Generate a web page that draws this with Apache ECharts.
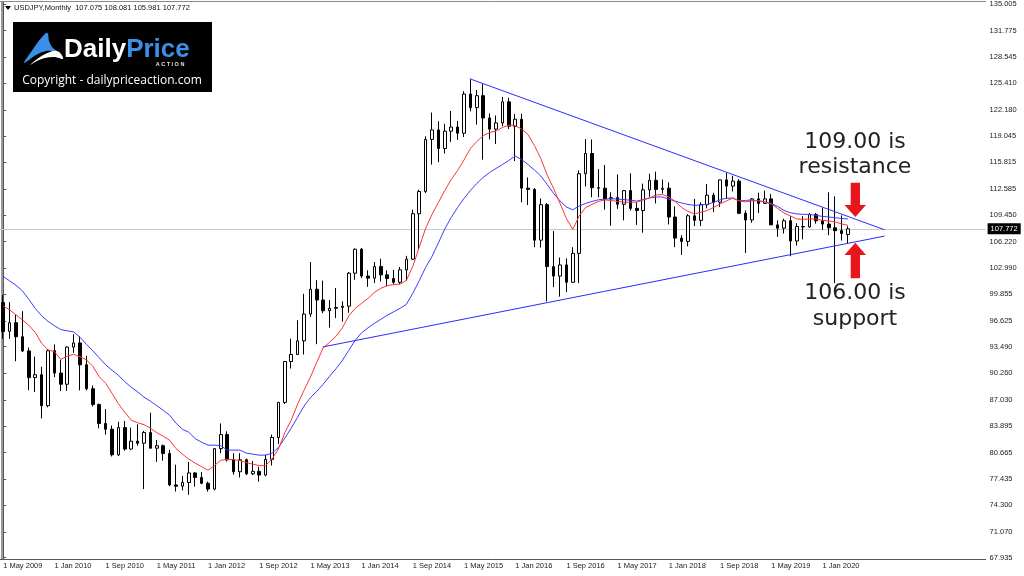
<!DOCTYPE html>
<html><head><meta charset="utf-8">
<script src="https://cdn.jsdelivr.net/npm/echarts@6/dist/echarts.min.js"></script>
<style>html,body{margin:0;padding:0;background:#fff}#c{width:1024px;height:576px}</style>
</head><body><div id="c"></div>
<script>
// ---------- categories (monthly, starting 1 May 2009) ----------
const monthNames = ['Jan','Feb','Mar','Apr','May','Jun','Jul','Aug','Sep','Oct','Nov','Dec'];
const startYear = 2009, startMonthIdx = 4, totalMonths = 154;
const categories = [];
for (let k = 0; k < totalMonths; k++) {
  const m = (startMonthIdx + k) % 12, y = startYear + Math.floor((startMonthIdx + k) / 12);
  categories.push('1 ' + monthNames[m] + ' ' + y);
}
const xTickLabels = ['1 May 2009','1 Jan 2010','1 Sep 2010','1 May 2011','1 Jan 2012','1 Sep 2012','1 May 2013','1 Jan 2014','1 Sep 2014','1 May 2015','1 Jan 2016','1 Sep 2016','1 May 2017','1 Jan 2018','1 Sep 2018','1 May 2019','1 Jan 2020'];
const yTickLabels = ['135.005','131.775','128.545','125.410','122.180','119.045','115.815','112.585','109.450','106.220','102.990','99.855','96.625','93.490','90.260','87.030','83.895','80.665','77.435','74.300','71.070','67.935'];

// ---------- USDJPY monthly candles, May 2009 .. May 2020 ----------
const open = [98.85,95.35,96.40,94.70,92.98,89.75,90.10,86.35,93.00,90.30,
  88.95,93.45,93.95,91.30,88.40,86.50,84.20,83.50,80.40,83.70,
  81.10,82.05,81.80,83.10,81.20,81.50,80.55,76.75,76.60,77.05,
  78.20,77.65,76.95,76.25,81.15,82.85,79.80,78.35,79.80,78.10,
  78.40,77.95,79.85,82.50,86.75,91.70,92.55,94.20,97.45,100.45,
  99.15,97.85,98.15,98.25,98.40,102.40,105.30,102.05,101.80,103.20,
  102.20,101.75,101.30,102.80,104.10,109.60,112.30,118.60,119.75,117.50,
  119.60,120.10,119.35,124.10,122.45,123.90,121.20,119.85,120.60,123.15,
  120.20,121.05,112.70,112.55,106.40,110.70,103.20,102.05,103.40,101.30,
  104.80,114.45,116.90,112.75,112.70,111.40,111.55,110.75,112.40,110.25,
  110.00,112.50,113.65,112.55,112.70,109.20,106.65,106.25,109.35,108.80,
  110.70,111.85,111.00,113.70,112.95,113.55,109.65,108.85,111.40,110.85,
  111.40,108.25,107.85,108.75,106.30,108.05,108.00,109.50,108.75,108.35,
  107.90,107.55,107.075];
const high = [99.77,98.89,97.35,97.80,93.40,92.30,91.07,93.20,93.78,91.92,
  93.55,94.99,94.75,92.40,88.80,86.60,85.95,83.95,84.40,84.50,
  83.70,84.10,83.30,85.50,82.20,81.65,81.00,79.20,77.85,79.55,
  78.30,78.30,77.15,81.20,84.20,83.25,80.60,80.60,79.95,79.65,
  78.95,80.40,82.85,86.80,91.75,94.45,96.70,99.90,103.75,101.55,
  101.50,99.15,100.60,99.00,102.55,105.40,105.45,102.75,103.75,104.15,
  102.75,102.80,103.15,104.50,110.10,112.50,118.98,121.85,120.80,120.50,
  122.05,120.85,124.45,125.86,124.60,125.30,121.75,121.50,123.75,123.65,
  121.70,121.70,114.00,112.70,111.45,110.90,107.50,104.30,104.20,105.55,
  114.85,118.65,118.60,115.00,115.50,112.20,114.35,112.45,114.50,110.95,
  113.25,114.45,114.70,113.75,113.40,110.50,107.00,109.55,111.40,111.00,
  113.20,112.15,113.75,114.55,114.20,113.80,110.00,111.50,112.15,112.40,
  112.00,108.80,109.00,109.30,108.45,109.30,109.70,109.70,110.30,112.20,
  111.70,109.40,108.081];
const low = [94.45,94.45,91.73,92.85,88.22,88.00,84.82,86.15,89.80,88.13,
  88.15,92.75,88.20,88.20,86.25,83.60,82.85,80.20,80.25,80.90,
  81.00,81.50,76.25,81.20,79.55,79.70,76.60,75.95,76.10,75.56,
  76.55,76.85,75.95,76.10,80.60,79.60,78.00,77.65,77.95,77.95,
  77.15,77.80,79.10,81.70,86.55,90.85,92.55,92.55,97.10,93.80,
  97.55,95.80,96.95,96.55,97.60,101.60,101.80,100.75,101.20,101.40,
  100.80,101.05,101.05,101.50,104.00,105.20,112.10,115.55,115.85,116.90,
  118.30,118.55,118.90,122.00,120.40,116.15,118.60,118.05,120.20,119.85,
  115.98,110.98,110.65,105.55,105.50,98.98,100.70,99.55,100.10,101.20,
  101.20,112.90,111.60,111.60,110.10,108.15,110.20,108.80,110.00,108.25,
  107.30,111.65,110.85,112.05,108.30,105.55,104.60,105.65,108.10,108.10,
  110.25,109.80,110.40,111.40,112.30,109.55,104.85,108.50,109.70,110.80,
  108.25,106.80,107.20,104.45,105.75,106.50,107.90,108.40,107.65,107.00,
  101.20,106.35,105.981];
const close = [95.35,96.40,94.70,92.98,89.75,90.10,86.35,93.00,90.30,88.95,
  93.45,93.95,91.30,88.40,86.50,84.20,83.50,80.40,83.70,81.10,
  82.05,81.80,83.10,81.20,81.50,80.55,76.75,76.60,77.05,78.20,
  77.65,76.95,76.25,81.15,82.85,79.80,78.35,79.80,78.10,78.40,
  77.95,79.85,82.50,86.75,91.70,92.55,94.20,97.45,100.45,99.15,
  97.85,98.15,98.25,98.40,102.40,105.30,102.05,101.80,103.20,102.20,
  101.75,101.30,102.80,104.10,109.60,112.30,118.60,119.75,117.50,119.60,
  120.10,119.35,124.10,122.45,123.90,121.20,119.85,120.60,123.15,120.20,
  121.05,112.70,112.55,106.40,110.70,103.20,102.05,103.40,101.30,104.80,
  114.45,116.90,112.75,112.70,111.40,111.55,110.75,112.40,110.25,110.00,
  112.50,113.65,112.55,112.70,109.20,106.65,106.25,109.35,108.80,110.70,
  111.85,111.00,113.70,112.95,113.55,109.65,108.85,111.40,110.85,111.40,
  108.25,107.85,108.75,106.30,108.05,108.00,109.50,108.75,108.35,107.90,
  107.55,107.20,107.772];

// ---------- moving averages ----------
const maRed = [98.41,97.96,97.36,96.75,96.09,95.24,93.91,93.12,92.88,91.97,
  92.34,92.58,92.28,91.91,91.13,89.86,89.07,87.86,86.59,85.56,
  84.59,84.29,84.05,83.63,83.08,82.66,82.17,81.15,80.48,79.88,
  79.39,78.97,78.54,79.09,79.75,79.82,79.82,79.69,79.45,79.27,
  79.09,79.09,79.88,81.09,83.08,84.59,86.53,88.22,89.80,91.61,
  93.36,94.03,94.76,95.78,97.24,98.14,98.75,99.35,100.08,100.56,
  100.89,101.01,101.08,101.53,103.22,105.52,107.82,109.52,110.97,112.42,
  113.75,114.84,116.11,117.50,118.35,119.07,119.44,119.62,120.04,120.32,
  120.28,119.86,119.19,117.86,116.29,114.29,112.66,110.85,109.03,107.70,
  109.33,110.36,110.73,111.09,111.27,111.21,111.09,111.00,111.00,111.00,
  111.27,111.51,111.87,111.94,111.63,111.09,110.36,109.88,109.58,109.76,
  110.00,110.36,110.79,111.15,111.51,111.15,111.03,111.15,111.21,111.03,
  110.79,110.24,109.70,109.33,108.97,108.91,108.97,108.97,108.79,108.73,
  108.61,108.37,108.19];
const maBlue = [102.01,101.47,100.93,100.26,99.23,98.14,97.24,96.57,96.03,95.57,
  95.42,95.30,94.64,93.79,93.00,92.16,91.31,90.64,90.04,89.25,
  88.59,88.04,87.38,86.89,86.35,85.80,85.20,84.23,83.50,83.14,
  82.36,81.93,81.57,81.57,81.51,80.97,80.97,80.97,80.60,80.48,
  80.36,80.36,80.60,81.27,82.42,83.63,84.96,86.29,87.32,88.10,
  88.95,89.92,90.82,91.85,93.06,94.27,95.18,95.78,96.33,96.81,
  97.30,97.72,98.14,98.63,99.96,101.47,103.10,104.43,106.07,107.76,
  109.15,110.36,111.45,112.42,113.27,114.00,114.60,115.08,115.56,116.05,
  116.59,116.17,115.56,114.90,114.17,113.15,112.06,111.15,110.42,110.08,
  110.54,110.85,111.09,111.29,111.37,111.42,111.37,111.31,111.24,111.13,
  111.31,111.51,111.63,111.63,111.36,111.13,110.90,110.73,110.61,110.67,
  110.73,110.99,111.27,111.49,111.49,111.15,111.21,111.27,111.15,111.03,
  110.85,110.49,110.00,109.72,109.58,109.52,109.52,109.40,109.28,109.21,
  109.12,109.03,108.97];

// ---------- trend lines (month index, price) ----------
const upperTrend = [[72.9, 125.95], [137.7, 107.66]];
const lowerTrend = [[49.9, 93.46], [137.7, 106.89]];
const lastPrice = close[close.length - 1];

const yMin = 67.78, yMax = 135.28;
const FONT = 'Liberation Sans';

const candleData = open.map((o, i) => [o, close[i], low[i], high[i]]);

const chart = echarts.init(document.getElementById('c'), null, {renderer: 'canvas'});
chart.setOption({
  animation: false,
  backgroundColor: '#ffffff',
  textStyle: {fontFamily: FONT},
  grid: {left: 0, right: 38.4, top: 1, bottom: 17, containLabel: false},
  xAxis: [{
    type: 'category', data: categories, boundaryGap: true,
    axisLine: {lineStyle: {color: '#555', width: 1}},
    axisTick: {alignWithLabel: true, length: 4, lineStyle: {color: '#555'},
      interval: (idx, v) => xTickLabels.indexOf(v) >= 0},
    axisLabel: {interval: (idx, v) => xTickLabels.indexOf(v) >= 0, align: 'left', margin: 3,
      fontSize: 7.5, color: '#222', fontFamily: FONT},
    splitLine: {show: false}
  }, {
    type: 'value', min: -0.5, max: totalMonths - 0.5, position: 'top',
    axisLine: {show: true, lineStyle: {color: '#8a8a8a'}},
    axisTick: {show: false}, axisLabel: {show: false}, splitLine: {show: false}
  }],
  yAxis: [{
    type: 'value', position: 'right', min: yMin, max: yMax,
    axisLine: {show: true, lineStyle: {color: '#555'}},
    axisTick: {show: true, length: 3, lineStyle: {color: '#555'}, customValues: yTickLabels.map(Number)},
    axisLabel: {customValues: yTickLabels.map(Number), formatter: v => Number(v).toFixed(3),
      fontSize: 7.5, color: '#222', margin: 4, fontFamily: FONT},
    splitLine: {show: false}
  }, {
    type: 'value', position: 'left', min: yMin, max: yMax, offset: -2,
    axisLine: {show: true, lineStyle: {color: '#9a9a9a', width: 2}},
    axisTick: {show: false}, axisLabel: {show: false}, splitLine: {show: false}
  }],
  series: [{
    type: 'line', data: [], xAxisIndex: 0, yAxisIndex: 0, z: 1, silent: true,
    markLine: {
      silent: true, symbol: ['none', 'none'], z: 1,
      lineStyle: {color: '#c8c8c8', width: 1.2, type: 'solid'},
      label: {position: 'end', distance: 2, formatter: () => lastPrice.toFixed(3),
        backgroundColor: '#000', color: '#fff', padding: [2, 3, 1, 3], fontSize: 7.5, fontFamily: FONT},
      data: [{yAxis: lastPrice}]
    }
  }, {
    type: 'candlestick', data: candleData, barWidth: 3, z: 3,
    itemStyle: {color: '#ffffff', color0: '#000000', borderColor: '#000000', borderColor0: '#000000', borderWidth: 1}
  }, {
    type: 'line', data: maBlue, symbol: 'none', z: 4, silent: true,
    lineStyle: {color: '#3c3cff', width: 1}
  }, {
    type: 'line', data: maRed, symbol: 'none', z: 5, silent: true,
    lineStyle: {color: '#ff3434', width: 1}
  }, {
    type: 'line', xAxisIndex: 1, data: upperTrend, symbol: 'none', z: 6, silent: true,
    lineStyle: {color: '#2b2bff', width: 1}
  }, {
    type: 'line', xAxisIndex: 1, data: lowerTrend, symbol: 'none', z: 6, silent: true,
    lineStyle: {color: '#2b2bff', width: 1}
  }],
  graphic: [
    {type: 'polygon', shape: {points: [[5, 6], [11, 6], [8, 10]]}, style: {fill: '#000'}, z: 10},
    {type: 'text', x: 14, y: 8, z: 10, style: {text: 'USDJPY,Monthly  107.075 108.081 105.981 107.772',
      font: '7.5px "Liberation Sans"', fill: '#111', textVerticalAlign: 'middle'}},
    // logo
    {type: 'rect', shape: {x: 13, y: 22, width: 199, height: 70}, style: {fill: '#000'}, z: 10},
    {type: 'polygon', z: 11, shape: {smooth: 0.35, points: [[24,63],[31,52],[38,42],[46,33],[48,34],[49,41],[52,47],[56,51],[46,51],[36,55]]},
      style: {fill: '#3a8fe8'}},
    {type: 'polygon', z: 11, shape: {smooth: 0.35, points: [[30,65],[40,57],[50,52],[57,51],[61,54],[63,59],[55,57],[45,58],[37,61]]},
      style: {fill: '#ffffff'}},
    {type: 'text', x: 64, y: 50, z: 11, style: {text: '{a|Daily}{b|Price}', textVerticalAlign: 'middle',
      rich: {a: {fill: '#ffffff', fontSize: 26, fontWeight: 'bold', fontFamily: FONT},
             b: {fill: '#3d8ee6', fontSize: 26, fontWeight: 'bold', fontFamily: FONT}}}},
    {type: 'text', x: 170, y: 64, z: 11, style: {text: 'A C T I O N', font: 'bold 5.5px "Liberation Sans"',
      fill: '#e0e0e0', textAlign: 'center', textVerticalAlign: 'middle'}},
    {type: 'text', x: 112, y: 81, z: 11, style: {text: 'Copyright - dailypriceaction.com', font: '12px "Open Sans"',
      fill: '#ffffff', textAlign: 'center', textVerticalAlign: 'middle'}},
    // annotations
    {type: 'text', x: 855, y: 142, z: 10, style: {text: '109.00 is', font: '22px "DejaVu Sans"', fill: '#222',
      textAlign: 'center', textVerticalAlign: 'middle'}},
    {type: 'text', x: 855, y: 167.5, z: 10, style: {text: 'resistance', font: '22px "DejaVu Sans"', fill: '#222',
      textAlign: 'center', textVerticalAlign: 'middle'}},
    {type: 'text', x: 855, y: 293.5, z: 10, style: {text: '106.00 is', font: '22px "DejaVu Sans"', fill: '#222',
      textAlign: 'center', textVerticalAlign: 'middle'}},
    {type: 'text', x: 855, y: 319, z: 10, style: {text: 'support', font: '22px "DejaVu Sans"', fill: '#222',
      textAlign: 'center', textVerticalAlign: 'middle'}},
    {type: 'polygon', z: 10, shape: {points: [[850.7,182.7],[860,182.7],[860,205],[866,205],[855.3,217],[844.5,205],[850.7,205]]},
      style: {fill: '#e8161c'}},
    {type: 'polygon', z: 10, shape: {points: [[855.3,242.7],[866,255],[860,255],[860,278.3],[850.7,278.3],[850.7,255],[844.5,255]]},
      style: {fill: '#e8161c'}}
  ]
});
</script>
</body></html>
